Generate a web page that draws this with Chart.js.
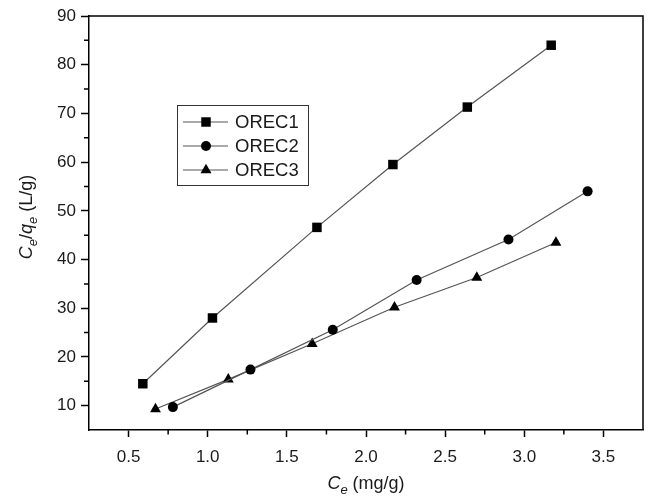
<!DOCTYPE html>
<html><head><meta charset="utf-8">
<script src="https://cdn.jsdelivr.net/npm/chart.js@4/dist/chart.umd.min.js"></script>
<style>html,body{margin:0;padding:0;background:#fff}</style>
</head><body>
<canvas id="c" width="650" height="496"></canvas>
<script>
const seriesNames = ['OREC1', 'OREC2', 'OREC3'];
const orec1X = [0.59, 1.03, 1.69, 2.17, 2.64, 3.17];
const orec1Y = [14.5, 28.0, 46.6, 59.5, 71.3, 84.0];
const orec2X = [0.78, 1.27, 1.79, 2.32, 2.90, 3.40];
const orec2Y = [9.7, 17.4, 25.6, 35.8, 44.1, 54.0];
const orec3X = [0.67, 1.13, 1.66, 2.18, 2.70, 3.20];
const orec3Y = [9.3, 15.4, 22.7, 30.2, 36.3, 43.5];
const xMajor = [0.5, 1.0, 1.5, 2.0, 2.5, 3.0, 3.5];
const xMinor = [0.75, 1.25, 1.75, 2.25, 2.75, 3.25];
const yMajor = [10, 20, 30, 40, 50, 60, 70, 80, 90];
const yMinor = [15, 25, 35, 45, 55, 65, 75, 85];

const FONT = '"Liberation Sans", Arial, sans-serif';
const styles = ['rect', 'circle', 'triangle'];
const radii = [6.7, 5, 6.3];
const xs = [orec1X, orec2X, orec3X];
const ys = [orec1Y, orec2Y, orec3Y];

const datasets = seriesNames.map((name, i) => ({
  label: name,
  data: xs[i].map((v, k) => ({x: v, y: ys[i][k]})),
  showLine: true,
  borderColor: '#555',
  borderWidth: 1.2,
  pointStyle: styles[i],
  pointRadius: radii[i],
  pointHoverRadius: radii[i],
  pointBackgroundColor: '#000',
  pointBorderColor: '#000',
  pointBorderWidth: 0
}));

function drawMarker(ctx, style, x, y, r) {
  ctx.beginPath();
  if (style === 'rect') {
    const s = Math.SQRT1_2 * r;
    ctx.rect(x - s, y - s, 2 * s, 2 * s);
  } else if (style === 'circle') {
    ctx.arc(x, y, r, 0, Math.PI * 2);
  } else {
    let rad = 0;
    ctx.moveTo(x + Math.sin(rad) * r, y - Math.cos(rad) * r);
    rad += 2 * Math.PI / 3;
    ctx.lineTo(x + Math.sin(rad) * r, y - Math.cos(rad) * r);
    rad += 2 * Math.PI / 3;
    ctx.lineTo(x + Math.sin(rad) * r, y - Math.cos(rad) * r);
    ctx.closePath();
  }
  ctx.fillStyle = '#000';
  ctx.fill();
}

function drawRich(ctx, parts, x, y, align) {
  const f = p => (p[1] ? 'italic ' : '') + (p[2] ? '13px ' : '18px ') + FONT;
  const widths = parts.map(p => { ctx.font = f(p); return ctx.measureText(p[0]).width; });
  const total = widths.reduce((a, b) => a + b, 0);
  let cx = align === 'center' ? x - total / 2 : x;
  parts.forEach((p, i) => {
    ctx.font = f(p);
    ctx.textAlign = 'left';
    ctx.textBaseline = 'alphabetic';
    ctx.fillText(p[0], cx, y + (p[2] ? 5 : 0));
    cx += widths[i];
  });
}

const extras = {
  id: 'extras',
  afterDraw(chart) {
    const {ctx, chartArea: a, scales: {x, y}} = chart;
    ctx.save();
    ctx.strokeStyle = '#000';
    ctx.lineWidth = 1.5;
    ctx.beginPath();
    ctx.moveTo(a.left, a.top);
    ctx.lineTo(a.right, a.top);
    ctx.lineTo(a.right, a.bottom);
    ctx.stroke();
    ctx.beginPath();
    xMinor.forEach(v => { const px = x.getPixelForValue(v); ctx.moveTo(px, a.bottom); ctx.lineTo(px, a.bottom + 4.5); });
    yMinor.forEach(v => { const py = y.getPixelForValue(v); ctx.moveTo(a.left, py); ctx.lineTo(a.left - 5, py); });
    ctx.stroke();

    ctx.fillStyle = '#1a1a1a';
    drawRich(ctx, [['C', true, false], ['e', true, true], [' (mg/g)', false, false]], (a.left + a.right) / 2, 489, 'center');
    ctx.save();
    ctx.translate(32, (a.top + a.bottom) / 2 - 6);
    ctx.rotate(-Math.PI / 2);
    drawRich(ctx, [['C', true, false], ['e', true, true], ['/', false, false], ['q', true, false], ['e', true, true], [' (L/g)', false, false]], 0, 0, 'center');
    ctx.restore();

    ctx.strokeStyle = '#333';
    ctx.lineWidth = 1;
    ctx.strokeRect(177.5, 105.5, 131, 80);
    const rows = [122, 146, 170];
    chart.data.datasets.forEach((ds, i) => {
      const ry = rows[i];
      ctx.strokeStyle = ds.borderColor;
      ctx.lineWidth = ds.borderWidth;
      ctx.beginPath();
      ctx.moveTo(183, ry);
      ctx.lineTo(228, ry);
      ctx.stroke();
      drawMarker(ctx, ds.pointStyle, 206, ry, ds.pointRadius);
      ctx.fillStyle = '#1a1a1a';
      ctx.font = '18.5px ' + FONT;
      ctx.textAlign = 'left';
      ctx.textBaseline = 'middle';
      ctx.fillText(ds.label, 235, ry + 1);
    });
    ctx.restore();
  }
};

new Chart(document.getElementById('c'), {
  type: 'scatter',
  data: {datasets},
  options: {
    responsive: false,
    animation: false,
    layout: {padding: {top: 16, right: 7, left: 0, bottom: 0}},
    plugins: {legend: {display: false}, tooltip: {enabled: false}},
    scales: {
      x: {
        type: 'linear', min: 0.25, max: 3.75,
        afterBuildTicks: ax => { ax.ticks = xMajor.map(v => ({value: v})); },
        afterFit: ax => { ax.height = 66; },
        ticks: {color: '#1a1a1a', font: {family: FONT, size: 17}, padding: 10,
          callback: v => Number(v).toFixed(1), maxRotation: 0, autoSkip: false},
        grid: {drawOnChartArea: false, tickLength: 7, tickColor: '#000', tickWidth: 1.5},
        border: {color: '#000', width: 1.5}
      },
      y: {
        type: 'linear', min: 5, max: 90,
        afterBuildTicks: ax => { ax.ticks = yMajor.map(v => ({value: v})); },
        afterFit: ax => { ax.width = 89; },
        ticks: {color: '#1a1a1a', font: {family: FONT, size: 17}, padding: 5, autoSkip: false},
        grid: {drawOnChartArea: false, tickLength: 8, tickColor: '#000', tickWidth: 1.5},
        border: {color: '#000', width: 1.5}
      }
    }
  },
  plugins: [extras]
});
</script>
</body></html>
